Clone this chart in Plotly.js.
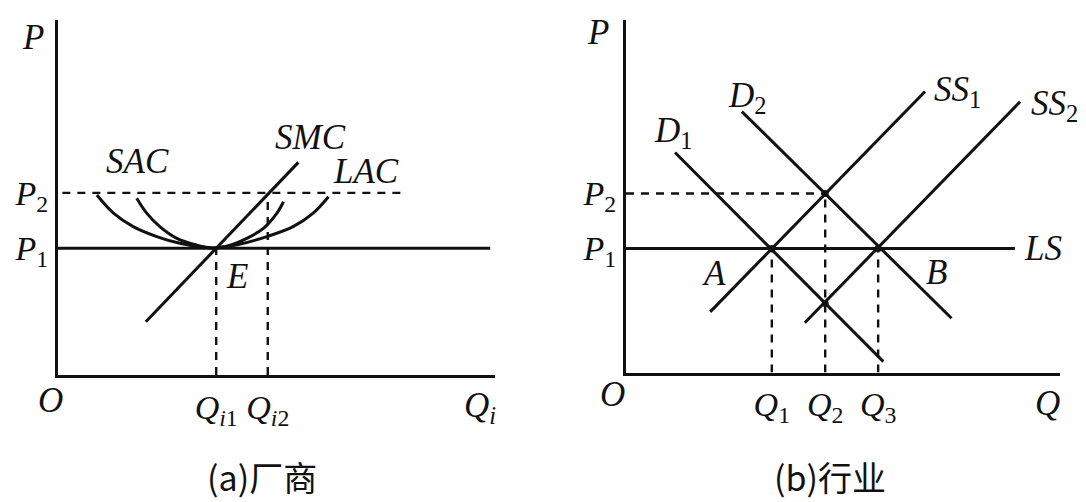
<!DOCTYPE html>
<html>
<head>
<meta charset="utf-8">
<script src="https://cdn.plot.ly/plotly-3.0.1.min.js"></script>
<style>html,body{margin:0;padding:0;background:#fff;}#chart{width:1086px;height:502px;}</style>
</head>
<body>
<div id="chart"></div>
<script>
// ---------- Panel (a) firm ----------
const aPriceVals = [35.7, 51.3];
const aPriceLabels = ['<i>P</i><sub>1</sub>', '<i>P</i><sub>2</sub>'];
const aQtyVals = [36.2, 48.0];
const aQtyLabels = ['<i>Q</i><sub><i>i</i>1</sub>', '<i>Q</i><sub><i>i</i>2</sub>'];
const smcX = [20.1, 55.0];
const smcY = [15.0, 59.9];
const lacX = [8.9, 12.7, 17.2, 22.6, 27.9, 35.5, 41.7, 47.8, 53.8, 58.4, 61.9];
const lacY = [50.7, 45.6, 41.8, 39.0, 37.1, 35.8, 36.9, 39.0, 41.8, 45.6, 50.2];
const sacX = [18.0, 20.3, 23.3, 27.2, 31.7, 35.5, 39.4, 43.2, 47.0, 50.1, 51.6];
const sacY = [49.8, 45.6, 41.8, 38.5, 36.6, 35.8, 36.6, 38.5, 41.3, 45.6, 48.8];
const aP1LineX = [0, 98.9];
const aP2LineX = [1, 79.4];

// ---------- Panel (b) industry ----------
const bPriceVals = [35.2, 50.8];
const bPriceLabels = ['<i>P</i><sub>1</sub>', '<i>P</i><sub>2</sub>'];
const bQtyVals = [33.6, 45.9, 58.1];
const bQtyLabels = ['<i>Q</i><sub>1</sub>', '<i>Q</i><sub>2</sub>', '<i>Q</i><sub>3</sub>'];
const d1X = [11.3, 59.3], d1Y = [62.4, 3.1];
const d2X = [26.7, 75.0], d2Y = [74.0, 15.4];
const ss1X = [19.4, 68.9], ss1Y = [17.2, 79.7];
const ss2X = [41.2, 90.8], ss2Y = [14.1, 76.8];
const lsX = [0, 89.6];
const dotX = [33.6, 45.9, 58.1, 45.9];
const dotY = [35.2, 50.8, 35.2, 19.6];

const W = 1086, H = 502;
const BLK = '#111';
const LW = 3;
const DASH = '8px,7px';
const serif = 'Liberation Serif, Times New Roman, serif';

function line(x, y, xa, ya, dash, shape) {
  return {x: x, y: y, xaxis: xa, yaxis: ya, mode: 'lines', hoverinfo: 'skip',
    line: {color: BLK, width: dash ? 2.4 : LW, dash: dash || 'solid', shape: shape || 'linear', smoothing: 1}};
}

const traces = [];
// panel a
traces.push(line(aP1LineX, [aPriceVals[0], aPriceVals[0]], 'x', 'y'));
traces.push(line(aP2LineX, [aPriceVals[1], aPriceVals[1]], 'x', 'y', DASH));
traces.push(line([aQtyVals[0], aQtyVals[0]], [0, aPriceVals[0]], 'x', 'y', DASH));
traces.push(line([aQtyVals[1], aQtyVals[1]], [0, aPriceVals[1]], 'x', 'y', DASH));
traces.push(line(lacX, lacY, 'x', 'y', null, 'spline'));
traces.push(line(sacX, sacY, 'x', 'y', null, 'spline'));
traces.push(line(smcX, smcY, 'x', 'y'));
// panel b
traces.push(line(lsX, [bPriceVals[0], bPriceVals[0]], 'x2', 'y2'));
traces.push(line([0, bQtyVals[1]], [bPriceVals[1], bPriceVals[1]], 'x2', 'y2', DASH));
traces.push(line([bQtyVals[0], bQtyVals[0]], [0, bPriceVals[0]], 'x2', 'y2', DASH));
traces.push(line([bQtyVals[1], bQtyVals[1]], [0, bPriceVals[1]], 'x2', 'y2', DASH));
traces.push(line([bQtyVals[2], bQtyVals[2]], [0, bPriceVals[0]], 'x2', 'y2', DASH));
traces.push(line(d1X, d1Y, 'x2', 'y2'));
traces.push(line(d2X, d2Y, 'x2', 'y2'));
traces.push(line(ss1X, ss1Y, 'x2', 'y2'));
traces.push(line(ss2X, ss2Y, 'x2', 'y2'));
traces.push({x: dotX, y: dotY, xaxis: 'x2', yaxis: 'y2', mode: 'markers', hoverinfo: 'skip',
  cliponaxis: false, marker: {color: BLK, size: 7}});

function ax(domain, tickvals, ticktext) {
  return {domain: domain, range: [0, 100], showline: true, linewidth: 3, linecolor: BLK,
    showgrid: false, zeroline: false, ticks: '', fixedrange: true,
    tickvals: tickvals, ticktext: ticktext,
    tickfont: {family: serif, size: 34, color: BLK}};
}

function ann(text, px, py, opts) {
  return Object.assign({text: text, x: px / W, y: 1 - py / H, xref: 'paper', yref: 'paper',
    showarrow: false, xanchor: 'center', yanchor: 'middle',
    font: {family: serif, size: 35, color: BLK}}, opts || {});
}

const cap = {family: 'Noto Sans CJK SC, Noto Sans, sans-serif', size: 34, color: BLK};

const annotations = [
  ann('<i>P</i>', 33, 37),
  ann('<i>SAC</i>', 137, 162),
  ann('<i>SMC</i>', 310, 137),
  ann('<i>LAC</i>', 366, 172),
  ann('<i>E</i>', 237, 276),
  ann('<i>O</i>', 50, 400),
  ann('<i>Q</i><sub><i>i</i></sub>', 480, 407),
  ann('<i>P</i>', 598, 33),
  ann('<i>D</i><sub>2</sub>', 747, 97),
  ann('<i>D</i><sub>1</sub>', 673, 132),
  ann('<i>SS</i><sub>1</sub>', 957, 91),
  ann('<i>SS</i><sub>2</sub>', 1054, 105),
  ann('<i>LS</i>', 1043, 248),
  ann('<i>A</i>', 714, 273),
  ann('<i>B</i>', 936, 272),
  ann('<i>O</i>', 613, 394),
  ann('<i>Q</i>', 1047, 403),
  ann('(a)厂商', 262, H, {font: cap, yanchor: 'bottom', borderpad: 0}),
  ann('(b)行业', 830, H, {font: cap, yanchor: 'bottom', borderpad: 0})
];

const layout = {
  width: W, height: H, margin: {l: 0, r: 0, t: 0, b: 0},
  paper_bgcolor: '#fff', plot_bgcolor: 'rgba(0,0,0,0)', showlegend: false,
  xaxis: Object.assign(ax([58 / W, 495 / W], aQtyVals, aQtyLabels), {anchor: 'y'}),
  yaxis: Object.assign(ax([1 - 375 / H, 1 - 20 / H], aPriceVals, aPriceLabels), {anchor: 'x'}),
  xaxis2: Object.assign(ax([626 / W, 1060 / W], bQtyVals, bQtyLabels), {anchor: 'y2'}),
  yaxis2: Object.assign(ax([1 - 372.5 / H, 1 - 20 / H], bPriceVals, bPriceLabels), {anchor: 'x2'}),
  annotations: annotations
};

Plotly.newPlot('chart', traces, layout, {staticPlot: true, displayModeBar: false});
</script>
</body>
</html>
